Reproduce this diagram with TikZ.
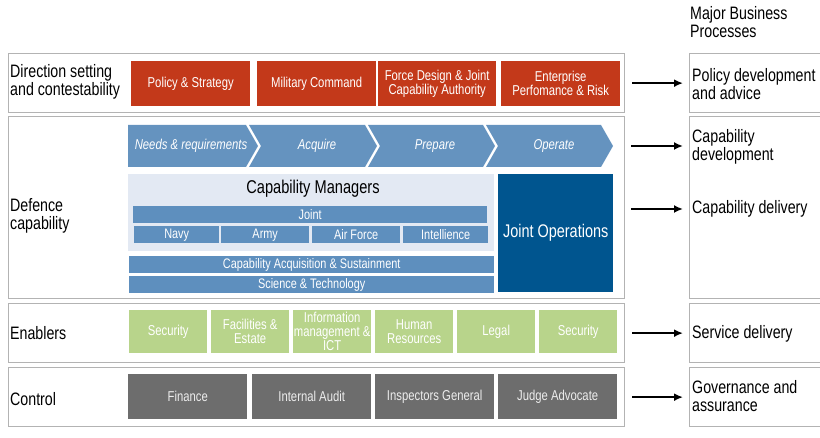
\documentclass[tikz,border=0pt]{standalone}
\usepackage{fontspec}
\setmainfont{Liberation Sans}[FakeStretch=0.79]
\usetikzlibrary{arrows.meta}
\definecolor{dred}{HTML}{C3391A}
\definecolor{chevc}{HTML}{6593BF}
\definecolor{barc}{HTML}{5E8FBE}
\definecolor{panelc}{HTML}{E3E9F3}
\definecolor{jopc}{HTML}{00558F}
\definecolor{greenc}{HTML}{B8D48B}
\definecolor{greyc}{HTML}{6D6D6D}
\definecolor{framec}{HTML}{B3B3B3}
\begin{document}
\begin{tikzpicture}[x=1pt,y=-1pt,
  box/.style={anchor=north west, inner sep=0pt, align=center, text=white,
    font=\fontsize{14.3}{14}\selectfont},
  frame/.style={anchor=north west, inner sep=0pt, draw=framec, line width=1.3pt},
  redbox/.style={box, fill=dred},
  bar/.style={box, fill=barc, font=\fontsize{13.8}{14}\selectfont},
  greenbox/.style={box, fill=greenc},
  greybox/.style={box, fill=greyc, text=white!93!black},
  chevtext/.style={text=white, font=\fontsize{14.3}{14}\selectfont\itshape},
  biglabel/.style={anchor=west, align=left, inner sep=0pt, font=\fontsize{18}{18}\selectfont},
  arr/.style={-{Latex[length=9pt,width=8pt]}, line width=2.2pt}
]
\useasboundingbox (0,0) rectangle (820,438);

% title
\node[biglabel, anchor=north west] (mbp) at (690,6) {Major Business\\Processes};

% frames
\node[frame, minimum width=616pt, minimum height=59pt] (f1) at (8,53) {};
\node[frame, minimum width=616pt, minimum height=182pt] (f2) at (8,116) {};
\node[frame, minimum width=616pt, minimum height=59pt] (f3) at (8,303) {};
\node[frame, minimum width=616pt, minimum height=59pt] (f4) at (8,367) {};

% right boxes (open to the right edge)
\node[frame, minimum width=150pt, minimum height=59pt] (r1) at (689,53) {};
\node[frame, minimum width=150pt, minimum height=182pt] (r2) at (689,116) {};
\node[frame, minimum width=150pt, minimum height=59pt] (r3) at (689,303) {};
\node[frame, minimum width=150pt, minimum height=59pt] (r4) at (689,367) {};

% left labels
\node[biglabel] (l1) at (10,82) {Direction setting\\and contestability};
\node[biglabel] (l2) at (10,216) {Defence\\capability};
\node[biglabel] (l3) at (10,333) {Enablers};
\node[biglabel] (l4) at (10,399) {Control};

% right labels
\node[biglabel] (t1) at (692,84) {Policy development\\and advice};
\node[biglabel] (t2) at (692,147) {Capability\\development};
\node[biglabel] (t3) at (692,209) {Capability delivery};
\node[biglabel] (t4) at (692,334) {Service delivery};
\node[biglabel] (t5) at (692,396) {Governance and\\assurance};

% row 1
\node[redbox, minimum width=119pt, minimum height=45pt] (ps) at (131,61) {Policy \& Strategy};
\node[redbox, minimum width=119pt, minimum height=45pt] (mc) at (257,61) {Military Command};
\node[redbox, minimum width=118pt, minimum height=45pt] (fd) at (378,61) {Force Design \& Joint\\Capability Authority};
\node[redbox, minimum width=119pt, minimum height=45pt] (ep) at (501,61) {Enterprise\\Perfomance \& Risk};

% chevrons
\fill[chevc] (128,125) -- (246,125) -- (258,146) -- (246,167) -- (128,167) -- cycle;
\fill[chevc] (249,125) -- (365,125) -- (377,146) -- (365,167) -- (249,167) -- (261,146) -- cycle;
\fill[chevc] (368,125) -- (483,125) -- (495,146) -- (483,167) -- (368,167) -- (380,146) -- cycle;
\fill[chevc] (486,125) -- (601,125) -- (613,146) -- (601,167) -- (486,167) -- (498,146) -- cycle;
\node[chevtext] (c1) at (191,146) {Needs \& requirements};
\node[chevtext] (c2) at (317,146) {Acquire};
\node[chevtext] (c3) at (435,146) {Prepare};
\node[chevtext] (c4) at (554,146) {Operate};

% capability managers
\node[box, fill=panelc, minimum width=366pt, minimum height=77pt] (cmp) at (128,174) {};
\node[text=black, font=\fontsize{18.5}{18}\selectfont] (cmt) at (313,189) {Capability Managers};
\node[bar, minimum width=354pt, minimum height=17pt] (joint) at (133,206) {Joint};
\node[bar, minimum width=85pt, minimum height=17pt] (navy) at (134,226) {Navy};
\node[bar, minimum width=88pt, minimum height=17pt] (army) at (221,226) {Army};
\node[bar, minimum width=88pt, minimum height=17pt] (af) at (312,226) {Air Force};
\node[bar, minimum width=85pt, minimum height=17pt] (intel) at (403,226) {Intellience};
\node[bar, minimum width=365pt, minimum height=17pt] (cas) at (129,256) {Capability Acquisition \& Sustainment};
\node[bar, minimum width=365pt, minimum height=17pt] (st) at (129,276) {Science \& Technology};
\node[box, fill=jopc, minimum width=115pt, minimum height=118pt, font=\fontsize{18.3}{18}\selectfont] (jo) at (498,174) {Joint Operations};

% row 3
\node[greenbox, minimum width=78pt, minimum height=43pt] (g1) at (129,310) {Security};
\node[greenbox, minimum width=78pt, minimum height=43pt] (g2) at (211,310) {Facilities \&\\Estate};
\node[greenbox, minimum width=78pt, minimum height=43pt] (g3) at (293,310) {Information\\management \&\\ICT};
\node[greenbox, minimum width=78pt, minimum height=43pt] (g4) at (375,310) {Human\\Resources};
\node[greenbox, minimum width=78pt, minimum height=43pt] (g5) at (457,310) {Legal};
\node[greenbox, minimum width=78pt, minimum height=43pt] (g6) at (539,310) {Security};

% row 4
\node[greybox, minimum width=119pt, minimum height=45pt] (k1) at (128,374) {Finance};
\node[greybox, minimum width=119pt, minimum height=45pt] (k2) at (252,374) {Internal Audit};
\node[greybox, minimum width=119pt, minimum height=45pt] (k3) at (375,374) {Inspectors General};
\node[greybox, minimum width=119pt, minimum height=45pt] (k4) at (498,374) {Judge Advocate};

% arrows
\coordinate (a2s) at (631,146); \coordinate (a2e) at (683,146);
\coordinate (a3s) at (631,209); \coordinate (a3e) at (683,209);
\draw[arr] ([xshift=7pt]f1.east) -- ([xshift=-6pt]r1.west);
\draw[arr] (a2s) -- (a2e);
\draw[arr] (a3s) -- (a3e);
\draw[arr] ([xshift=7pt]f3.east) -- ([xshift=-6pt]r3.west);
\draw[arr] ([xshift=7pt]f4.east) -- ([xshift=-6pt]r4.west);
\end{tikzpicture}
\end{document}
